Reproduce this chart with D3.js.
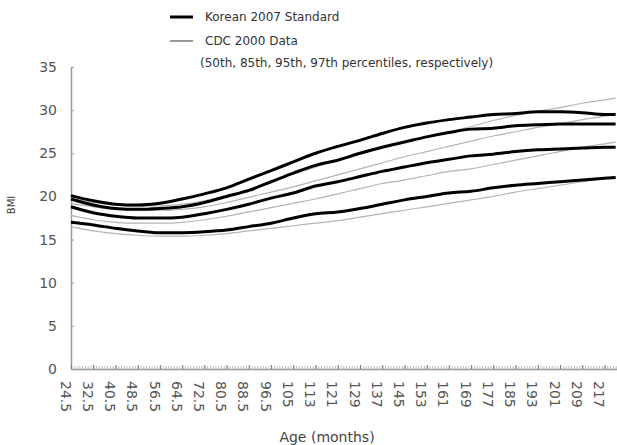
<!DOCTYPE html>
<html>
<head>
<meta charset="utf-8">
<script src="https://cdn.jsdelivr.net/npm/d3@7"></script>
<style>
  html, body { margin: 0; padding: 0; background: #fff; }
  svg { display: block; font-family: "DejaVu Sans", sans-serif; }
</style>
</head>
<body>
<svg id="chart" width="617" height="445"></svg>
<script>
// === DATA ===
const ages = [24.5, 32.5, 40.5, 48.5, 56.5, 64.5, 72.5, 80.5, 88.5, 96.5, 104.5, 112.5,
  120.5, 128.5, 136.5, 144.5, 152.5, 160.5, 168.5, 176.5, 184.5, 192.5, 200.5, 208.5, 216.5, 220.5];

const tickLabels = ["24.5", "32.5", "40.5", "48.5", "56.5", "64.5", "72.5", "80.5", "88.5", "96.5",
  "105", "113", "121", "129", "137", "145", "153", "161", "169", "177", "185", "193", "201", "209", "217"];

// Korean 2007 Standard (thick black)
const kor50 = [17.0, 16.7, 16.3, 16.0, 15.8, 15.8, 15.9, 16.1, 16.5, 16.9, 17.5, 18.0,
  18.2, 18.6, 19.1, 19.6, 20.0, 20.4, 20.6, 21.0, 21.3, 21.5, 21.7, 21.9, 22.1, 22.2];
const kor85 = [18.8, 18.1, 17.7, 17.5, 17.5, 17.6, 18.0, 18.5, 19.1, 19.8, 20.4, 21.2,
  21.7, 22.3, 22.9, 23.4, 23.9, 24.3, 24.7, 24.9, 25.2, 25.4, 25.5, 25.6, 25.7, 25.7];
const kor95 = [19.7, 19.0, 18.6, 18.5, 18.6, 18.8, 19.3, 20.0, 20.7, 21.7, 22.7, 23.6,
  24.2, 25.0, 25.7, 26.3, 26.9, 27.4, 27.8, 27.9, 28.2, 28.3, 28.4, 28.4, 28.4, 28.4];
const kor97 = [20.1, 19.5, 19.1, 19.0, 19.2, 19.7, 20.3, 21.0, 22.0, 23.0, 24.0, 25.0,
  25.8, 26.5, 27.3, 28.0, 28.5, 28.9, 29.2, 29.5, 29.6, 29.8, 29.8, 29.7, 29.5, 29.5];

// CDC 2000 Data (thin gray)
const cdc50 = [16.5, 16.0, 15.7, 15.5, 15.4, 15.4, 15.5, 15.7, 16.0, 16.3, 16.6, 16.9,
  17.2, 17.6, 18.0, 18.4, 18.8, 19.2, 19.6, 20.0, 20.5, 20.9, 21.3, 21.7, 22.1, 22.3];
const cdc85 = [17.8, 17.3, 17.0, 16.9, 16.9, 17.0, 17.3, 17.7, 18.2, 18.7, 19.2, 19.7,
  20.3, 20.9, 21.5, 21.9, 22.4, 22.9, 23.2, 23.7, 24.2, 24.7, 25.2, 25.7, 26.1, 26.3];
const cdc95 = [19.2, 18.8, 18.5, 18.4, 18.4, 18.5, 18.8, 19.3, 19.9, 20.5, 21.1, 21.8,
  22.5, 23.2, 23.9, 24.6, 25.2, 25.8, 26.4, 27.0, 27.5, 28.0, 28.4, 28.9, 29.3, 29.5];
const cdc97 = [19.8, 19.3, 19.0, 18.9, 18.9, 19.1, 19.5, 20.1, 20.8, 21.7, 22.6, 23.4,
  24.2, 24.9, 25.6, 26.3, 26.9, 27.5, 28.1, 28.8, 29.4, 29.9, 30.3, 30.8, 31.2, 31.4];

const korSeries = [kor50, kor85, kor95, kor97];
const cdcSeries = [cdc50, cdc85, cdc95, cdc97];
const yTicks = [0, 5, 10, 15, 20, 25, 30, 35];

// === SCALES ===
const svg = d3.select("#chart");
const x = d3.scaleLinear().domain([24.5, 221]).range([71, 617]);
const y = d3.scaleLinear().domain([0, 35]).range([369, 67]);

// === AXES ===
// y axis
const yAxis = svg.append("g").attr("transform", "translate(71,0)")
  .call(d3.axisLeft(y).tickValues(yTicks).tickSizeInner(-3).tickSizeOuter(0).tickPadding(14));
yAxis.select(".domain").attr("stroke", "#999").attr("stroke-width", 1.5);
yAxis.selectAll(".tick line").attr("stroke", "#999");
yAxis.selectAll(".tick text").attr("font-size", 14).attr("fill", "#555")
  .attr("font-family", "DejaVu Sans, sans-serif");

// x axis: small tick at every month, darker at labelled months
const monthTicks = d3.range(24.5, 221, 1);
const xMinor = svg.append("g").attr("transform", "translate(0,369)")
  .call(d3.axisBottom(x).tickValues(monthTicks).tickSizeInner(-3).tickSizeOuter(0).tickFormat(""));
xMinor.select(".domain").attr("stroke", "#999").attr("stroke-width", 1.5);
xMinor.selectAll(".tick line").attr("stroke", "#bbb");

const labelAges = ages.slice(0, tickLabels.length);
const xMajor = svg.append("g").attr("transform", "translate(0,369)")
  .call(d3.axisBottom(x).tickValues(labelAges).tickSizeInner(-4).tickSizeOuter(0)
    .tickFormat((d, i) => tickLabels[i]));
xMajor.select(".domain").remove();
xMajor.selectAll(".tick line").attr("stroke", "#777");
xMajor.selectAll(".tick text")
  .attr("font-size", 14).attr("fill", "#555")
  .attr("font-family", "DejaVu Sans, sans-serif")
  .attr("text-anchor", "start")
  .attr("transform", "translate(-6,12) rotate(90)")
  .attr("x", 0).attr("y", 0).attr("dy", "0.35em");

// axis titles
svg.append("text").text("Age (months)")
  .attr("x", 327).attr("y", 442).attr("text-anchor", "middle")
  .attr("font-size", 14).attr("fill", "#444");
svg.append("text").text("BMI")
  .attr("transform", "translate(15,205) rotate(-90)").attr("text-anchor", "middle")
  .attr("font-size", 10).attr("fill", "#444");

// === LINES ===
const line = d3.line()
  .x((d, i) => x(ages[i]))
  .y(d => y(d))
  .curve(d3.curveMonotoneX);

svg.append("g").selectAll("path")
  .data(cdcSeries)
  .join("path")
  .attr("d", line)
  .attr("fill", "none")
  .attr("stroke", "#b4b4b4")
  .attr("stroke-width", 1.2);

svg.append("g").selectAll("path")
  .data(korSeries)
  .join("path")
  .attr("d", line)
  .attr("fill", "none")
  .attr("stroke", "#000")
  .attr("stroke-width", 3);

// === LEGEND ===
const legend = svg.append("g");
legend.append("line").attr("x1", 170).attr("x2", 193).attr("y1", 17).attr("y2", 17)
  .attr("stroke", "#000").attr("stroke-width", 3);
legend.append("text").text("Korean 2007 Standard").attr("x", 205).attr("y", 21)
  .attr("font-size", 12).attr("fill", "#333");
legend.append("line").attr("x1", 170).attr("x2", 193).attr("y1", 41).attr("y2", 41)
  .attr("stroke", "#999").attr("stroke-width", 2);
legend.append("text").text("CDC 2000 Data").attr("x", 205).attr("y", 45)
  .attr("font-size", 12).attr("fill", "#333");
legend.append("text").text("(50th, 85th, 95th, 97th percentiles, respectively)")
  .attr("x", 200).attr("y", 67)
  .attr("font-size", 12).attr("fill", "#333");
</script>
</body>
</html>
